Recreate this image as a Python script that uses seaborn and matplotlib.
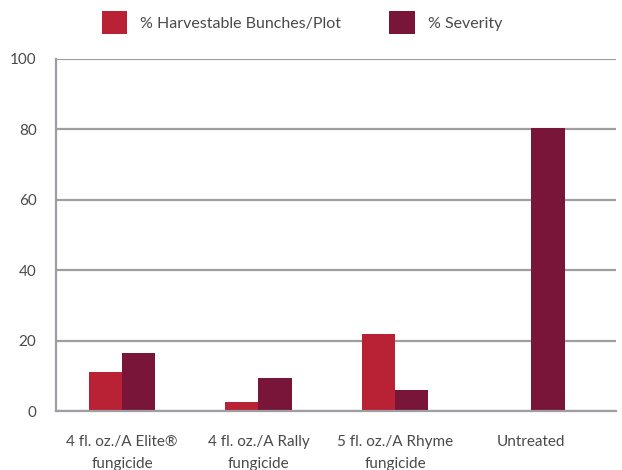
import pandas as pd
import matplotlib.pyplot as plt
import seaborn as sns
from matplotlib.patches import Patch

# data
treatments = ['4 fl. oz./A Elite®\nfungicide', '4 fl. oz./A Rally\nfungicide',
              '5 fl. oz./A Rhyme\nfungicide', 'Untreated']
harvestable = [11.0, 2.5, 22.0, 0.0]
severity = [16.6, 9.3, 6.1, 80.5]
series_names = ['% Harvestable Bunches/Plot', '% Severity']
series_colors = ['#B82234', '#781538']
y_ticks = [0, 20, 40, 60, 80, 100]

df = pd.DataFrame({
    'treatment': treatments * 2,
    'value': harvestable + severity,
    'series': [series_names[0]] * len(treatments) + [series_names[1]] * len(treatments),
})

sns.set_theme(style='white')
plt.rcParams['font.family'] = ['Lato', 'DejaVu Sans']

fig = plt.figure(figsize=(6.22, 4.70), dpi=100)
ax = fig.add_axes([0.090, 0.1255, 0.9003, 0.749])

sns.barplot(data=df, x='treatment', y='value', hue='series', order=treatments,
            hue_order=series_names, palette=series_colors, width=0.49,
            saturation=1, legend=False, linewidth=0, ax=ax)

grid_col = '#9E9EA2'
ax.set_ylim(0, 100)
ax.set_xlim(-0.4835, 3.619)
ax.set_yticks(y_ticks)
ax.yaxis.grid(True, color=grid_col, linewidth=1.6)
ax.set_axisbelow(True)
for side in ['top', 'right']:
    ax.spines[side].set_visible(False)
for side in ['left', 'bottom']:
    ax.spines[side].set_color(grid_col)
    ax.spines[side].set_linewidth(1.6)

ax.set_xlabel('')
ax.set_ylabel('')
ax.tick_params(axis='both', length=0, labelsize=11, labelcolor='#4A4A4A')
ax.tick_params(axis='y', pad=14)
ax.tick_params(axis='x', pad=17)
for lbl in ax.get_xticklabels():
    lbl.set_linespacing(1.75)

handles = [Patch(facecolor=c, edgecolor='none') for c in series_colors]
fig.legend(handles, series_names, loc='upper left', bbox_to_anchor=(0.153, 0.99),
           ncol=2, frameon=False, fontsize=11.5, handlelength=1.6, handleheight=1.85,
           columnspacing=3.0, handletextpad=0.82, labelcolor='#4A4A4A',
           borderaxespad=0, borderpad=0.4)

plt.savefig('out.png', dpi=100)
plt.close()
